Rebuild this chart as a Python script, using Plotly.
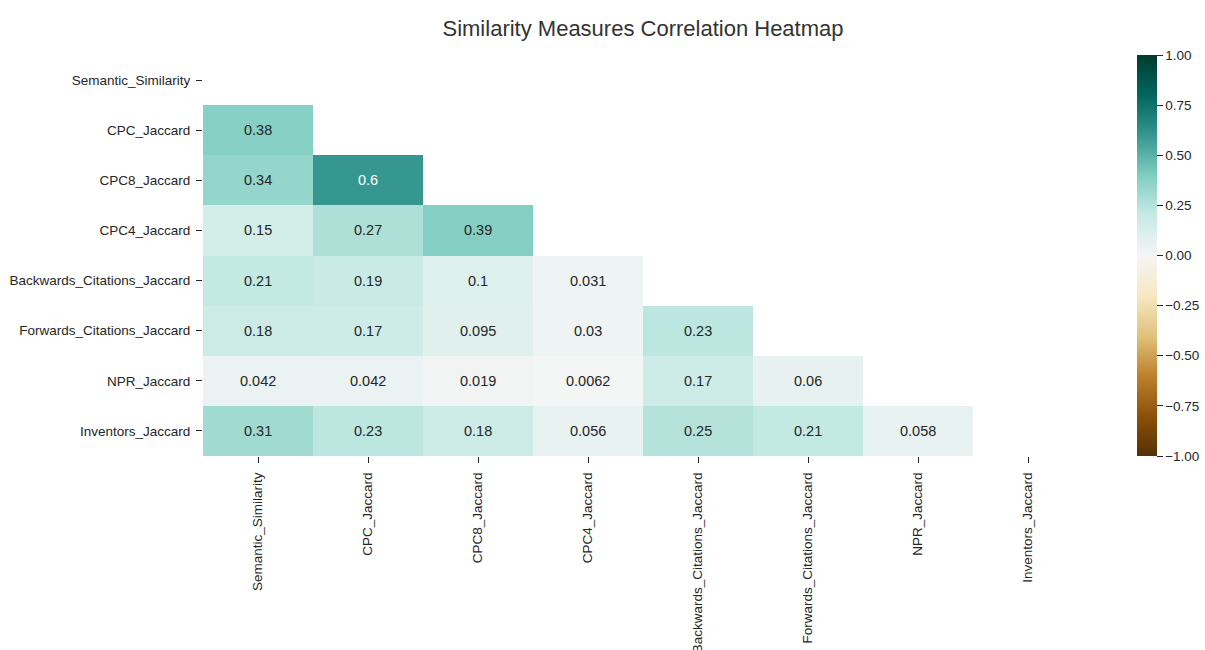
import plotly.graph_objects as go

# Similarity measures (same order on both axes)
measures = [
    "Semantic_Similarity",
    "CPC_Jaccard",
    "CPC8_Jaccard",
    "CPC4_Jaccard",
    "Backwards_Citations_Jaccard",
    "Forwards_Citations_Jaccard",
    "NPR_Jaccard",
    "Inventors_Jaccard",
]

# Lower-triangle correlation values, one list per row (diagonal and above are masked)
row_semantic = []
row_cpc = [0.38]
row_cpc8 = [0.34, 0.6]
row_cpc4 = [0.15, 0.27, 0.39]
row_backwards = [0.21, 0.19, 0.1, 0.031]
row_forwards = [0.18, 0.17, 0.095, 0.03, 0.23]
row_npr = [0.042, 0.042, 0.019, 0.0062, 0.17, 0.06]
row_inventors = [0.31, 0.23, 0.18, 0.056, 0.25, 0.21, 0.058]

rows = [row_semantic, row_cpc, row_cpc8, row_cpc4,
        row_backwards, row_forwards, row_npr, row_inventors]

n = len(measures)
z = [r + [None] * (n - len(r)) for r in rows]

# BrBG diverging palette
brbg = ['rgb(84,48,5)', 'rgb(140,81,10)', 'rgb(191,129,45)', 'rgb(223,194,125)',
        'rgb(246,232,195)', 'rgb(245,245,245)', 'rgb(199,234,229)', 'rgb(128,205,193)',
        'rgb(53,151,143)', 'rgb(1,102,94)', 'rgb(0,60,48)']
colorscale = [[i / (len(brbg) - 1), c] for i, c in enumerate(brbg)]

TXT = "#262626"
FONT = "Liberation Sans, Arial, sans-serif"

fig = go.Figure(
    go.Heatmap(
        z=z,
        x=measures,
        y=measures,
        zmin=-1,
        zmax=1,
        colorscale=colorscale,
        hoverongaps=False,
        colorbar=dict(
            xref="container", x=1137 / 1205, xanchor="left", xpad=0,
            y=0.5, yanchor="middle", len=1, lenmode="fraction", ypad=0,
            thickness=20, thicknessmode="pixels",
            outlinewidth=0,
            tickvals=[-1, -0.75, -0.5, -0.25, 0, 0.25, 0.5, 0.75, 1],
            tickformat=".2f",
            ticks="outside", ticklen=6, tickwidth=1.2, tickcolor=TXT,
            tickfont=dict(size=13.5, color=TXT, family=FONT),
        ),
    )
)

# Value labels in each visible cell
annotations = []
for i, r in enumerate(rows):
    for j, v in enumerate(r):
        annotations.append(dict(
            x=measures[j], y=measures[i], text=f"{v:.2g}",
            showarrow=False,
            font=dict(size=14.5, family=FONT, color="white" if v > 0.5 else TXT),
        ))

fig.update_layout(
    width=1205, height=650,
    autosize=False,
    margin=dict(l=203, r=122, t=55, b=194),
    paper_bgcolor="white",
    plot_bgcolor="white",
    font=dict(family=FONT, color=TXT, size=13.5),
    title=dict(
        text="Similarity Measures Correlation Heatmap",
        x=643 / 1205, xanchor="center",
        y=1 - 28 / 650, yanchor="middle",
        font=dict(size=22, color="#333333", family=FONT),
    ),
    annotations=annotations,
    xaxis=dict(
        type="category", range=[-0.5, n - 0.5],
        showgrid=False, zeroline=False, showline=False,
        ticks="outside", ticklen=6, tickwidth=1.2, tickcolor=TXT,
        ticklabelstandoff=4,
        tickangle=-90, tickfont=dict(size=13.5, color=TXT),
        automargin=False,
    ),
    yaxis=dict(
        type="category", range=[n - 0.5, -0.5],
        showgrid=False, zeroline=False, showline=False,
        ticks="outside", ticklen=6, tickwidth=1.2, tickcolor=TXT,
        ticklabelstandoff=3,
        tickfont=dict(size=13.5, color=TXT),
        automargin=False,
    ),
)

fig.write_html("out.html")
